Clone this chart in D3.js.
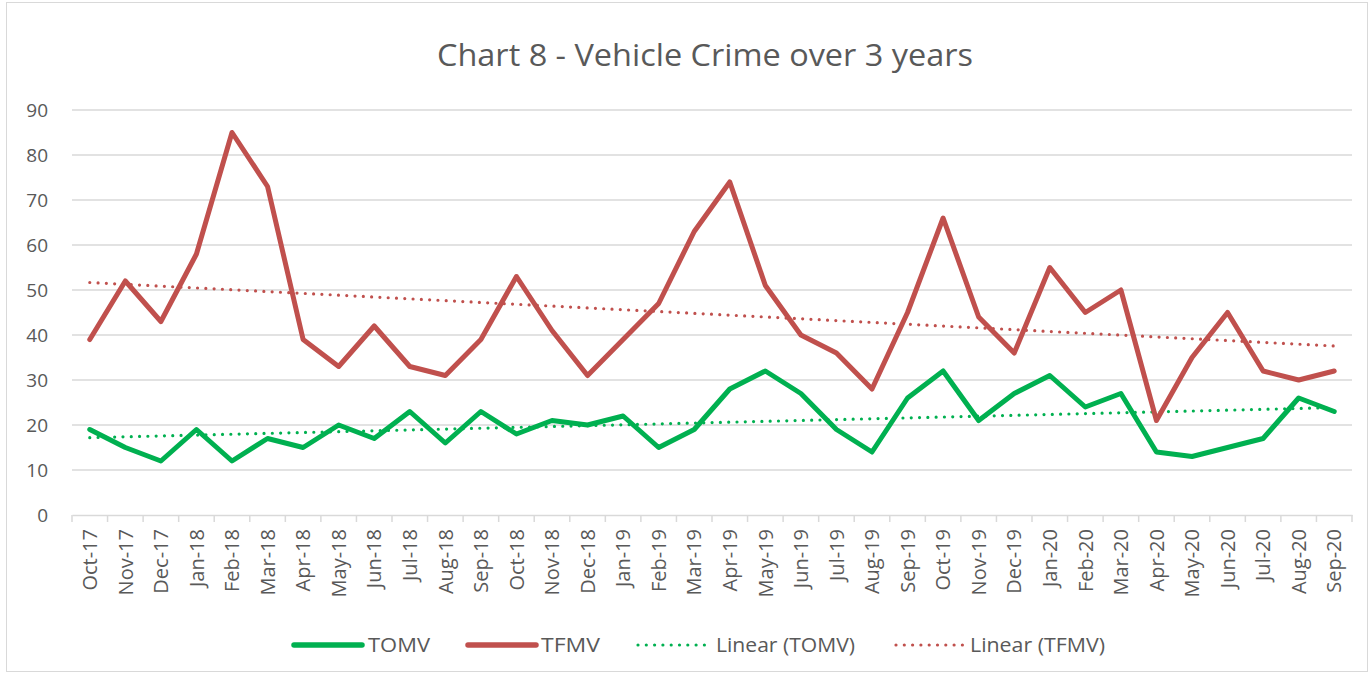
<!DOCTYPE html>
<html><head><meta charset="utf-8">
<script src="https://cdn.jsdelivr.net/npm/d3@7"></script>
<style>body{margin:0;background:#fff;} text{font-family:"Open Sans","Noto Sans",sans-serif;fill:#595959;}</style>
</head><body>
<svg id="c" width="1371" height="675"></svg>
<script>
const months = ["Oct-17","Nov-17","Dec-17","Jan-18","Feb-18","Mar-18","Apr-18","May-18","Jun-18","Jul-18","Aug-18","Sep-18","Oct-18","Nov-18","Dec-18","Jan-19","Feb-19","Mar-19","Apr-19","May-19","Jun-19","Jul-19","Aug-19","Sep-19","Oct-19","Nov-19","Dec-19","Jan-20","Feb-20","Mar-20","Apr-20","May-20","Jun-20","Jul-20","Aug-20","Sep-20"];
const tomv = [19,15,12,19,12,17,15,20,17,23,16,23,18,21,20,22,15,19,28,32,27,19,14,26,32,21,27,31,24,27,14,13,15,17,26,23];
const tfmv = [39,52,43,58,85,73,39,33,42,33,31,39,53,41,31,39,47,63,74,51,40,36,28,45,66,44,36,55,45,50,21,35,45,32,30,32];
const yTicks = [0,10,20,30,40,50,60,70,80,90];
const title = "Chart 8 - Vehicle Crime over 3 years";

const svg = d3.select("#c");
const W=1371,H=675;
svg.append("rect").attr("x",6.5).attr("y",2.5).attr("width",W-10).attr("height",H-6).attr("fill","#fff").attr("stroke","#d9d9d9").attr("stroke-width",1);

const L=72,R=1352,T=110,B=515;
const x = d3.scaleBand().domain(months).range([L,R]);
const y = d3.scaleLinear().domain([0,90]).range([B,T]);
const cx = d=>x(d)+x.bandwidth()/2;

// gridlines
svg.append("g").selectAll("line").data(yTicks.filter(t=>t>0)).join("line")
  .attr("x1",L).attr("x2",R).attr("y1",d=>y(d)).attr("y2",d=>y(d))
  .attr("stroke","#d9d9d9").attr("stroke-width",1.5);

// y axis labels
svg.append("g").selectAll("text").data(yTicks).join("text")
  .attr("x",48).attr("y",d=>y(d)).attr("dy","0.36em").attr("text-anchor","end")
  .attr("font-size",19).text(d=>d);

// x axis
const xa = d3.axisBottom(x).tickSize(0).tickFormat("");
const gx = svg.append("g").attr("transform",`translate(0,${B})`).call(xa);
gx.select(".domain").attr("stroke","#d9d9d9").attr("stroke-width",1.5);
gx.selectAll(".tick").remove();
const bounds = months.map(m=>x(m)).concat([R]);
svg.append("g").selectAll("line").data(bounds).join("line")
  .attr("x1",d=>d).attr("x2",d=>d).attr("y1",B).attr("y2",B+7)
  .attr("stroke","#d9d9d9").attr("stroke-width",1.5);
svg.append("g").selectAll("text").data(months).join("text")
  .attr("transform",d=>`translate(${cx(d)},${B+14}) rotate(-90)`)
  .attr("dy","0.36em").attr("text-anchor","end").attr("font-size",20).text(d=>d);

// trend lines (least squares, as Excel's linear trendline)
function trend(vals){
  const n=vals.length, xs=d3.range(1,n+1);
  const mx=d3.mean(xs), my=d3.mean(vals);
  const b=d3.sum(xs.map((xi,i)=>(xi-mx)*(vals[i]-my)))/d3.sum(xs.map(xi=>(xi-mx)**2));
  const a=my-b*mx;
  return xs.map(xi=>a+b*xi);
}
const line = d3.line().x((d,i)=>cx(months[i])).y(d=>y(d));

svg.append("path").datum(trend(tomv)).attr("d",line).attr("fill","none")
  .attr("stroke","#00b050").attr("stroke-width",3.2).attr("stroke-linecap","round").attr("stroke-dasharray","0,8.3");
svg.append("path").datum(trend(tfmv)).attr("d",line).attr("fill","none")
  .attr("stroke","#c0504d").attr("stroke-width",3.2).attr("stroke-linecap","round").attr("stroke-dasharray","0,8.3");

svg.append("path").datum(tomv).attr("d",line).attr("fill","none")
  .attr("stroke","#00b050").attr("stroke-width",5).attr("stroke-linejoin","round").attr("stroke-linecap","round");
svg.append("path").datum(tfmv).attr("d",line).attr("fill","none")
  .attr("stroke","#c0504d").attr("stroke-width",5).attr("stroke-linejoin","round").attr("stroke-linecap","round");

// title
svg.append("text").attr("x",437).attr("y",66).attr("font-size",31)
  .attr("textLength",536).attr("lengthAdjust","spacingAndGlyphs").text(title);

// legend
const legend = [
  {label:"TOMV",color:"#00b050",dash:null,x1:294,x2:362,tx:368,tl:62},
  {label:"TFMV",color:"#c0504d",dash:null,x1:468,x2:536,tx:541,tl:59},
  {label:"Linear (TOMV)",color:"#00b050",dash:"0,8.3",x1:638,x2:708,tx:716,tl:139},
  {label:"Linear (TFMV)",color:"#c0504d",dash:"0,8.3",x1:896,x2:965,tx:970,tl:135}
];
const lg = svg.append("g").selectAll("g").data(legend).join("g");
lg.append("line").attr("x1",d=>d.x1).attr("x2",d=>d.x2).attr("y1",645).attr("y2",645)
  .attr("stroke",d=>d.color).attr("stroke-width",d=>d.dash?3.2:5.5).attr("stroke-linecap","round")
  .attr("stroke-dasharray",d=>d.dash);
lg.append("text").attr("x",d=>d.tx).attr("y",645).attr("dy","0.36em").attr("font-size",20)
  .attr("textLength",d=>d.tl).attr("lengthAdjust","spacingAndGlyphs").text(d=>d.label);
</script>
</body></html>
